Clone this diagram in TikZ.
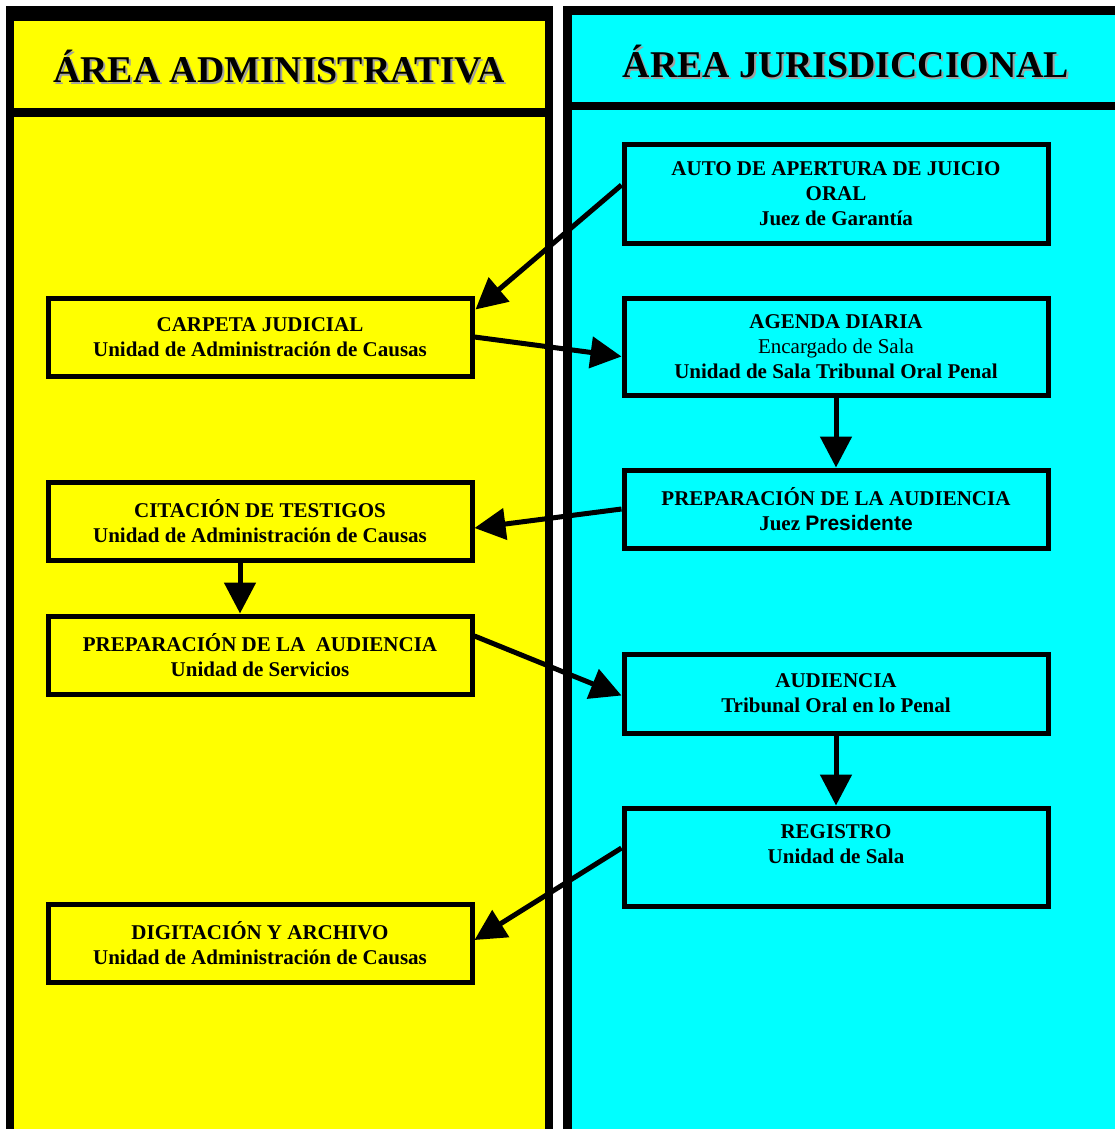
\documentclass[tikz,border=0pt]{standalone}
\usepackage{fontspec}
\setmainfont{Liberation Serif}
\newfontfamily\sansb{Liberation Sans}
\usetikzlibrary{arrows.meta,calc}
\definecolor{ylw}{RGB}{255,255,0}
\definecolor{cyn}{RGB}{0,255,255}
\definecolor{shd}{RGB}{160,160,160}
\begin{document}
\begin{tikzpicture}[x=1pt,y=-1pt,
  box/.style={draw=black,line width=5pt,rectangle,inner sep=0pt,minimum width=424pt,
    align=center,font=\fontsize{21pt}{25pt}\selectfont\bfseries},
  lbox/.style={box,fill=ylw},
  rbox/.style={box,fill=cyn},
  conn/.style={line width=5pt,-{Triangle[length=31pt,width=31pt]}},
  head/.style={font=\fontsize{37.8pt}{40pt}\selectfont\bfseries,inner sep=0pt}]
\useasboundingbox (0,0) rectangle (1115,1129);
\fill[white] (0,0) rectangle (1115,1129);
% left column
\fill[black] (6,6) rectangle (553,1140);
\fill[ylw] (14,21) rectangle (545,108);
\fill[ylw] (14,117) rectangle (545,1140);
% right column
\fill[black] (563,6) rectangle (1125,1140);
\fill[cyn] (572,15) rectangle (1125,102);
\fill[cyn] (572,110) rectangle (1125,1140);
% headers
\node[head,text=shd] (h1s) at (281,69) {ÁREA ADMINISTRATIVA};
\node[head] (h1) at (279,67) {ÁREA ADMINISTRATIVA};
\node[head,text=shd] (h2s) at (848,63) {ÁREA JURISDICCIONAL};
\node[head] (h2) at (846,61) {ÁREA JURISDICCIONAL};
% boxes
\node[rbox,minimum height=99pt] (auto) at (836,193.5) {AUTO DE APERTURA DE JUICIO\\ORAL\\Juez de Garantía};
\node[lbox,minimum height=78pt] (carpeta) at (260,337) {CARPETA JUDICIAL\\Unidad de Administración de Causas};
\node[rbox,minimum height=97pt] (agenda) at (836,346.5) {AGENDA DIARIA\\\mdseries Encargado de Sala\\Unidad de Sala Tribunal Oral Penal};
\node[lbox,minimum height=78pt] (citacion) at (260,521) {CITACIÓN DE TESTIGOS\\Unidad de Administración de Causas};
\node[rbox,minimum height=78pt] (prepr) at (836,509) {PREPARACIÓN DE LA AUDIENCIA\\Juez {\sansb\bfseries Presidente}};
\node[lbox,minimum height=78pt] (prepl) at (260,655) {PREPARACIÓN DE LA\ \ AUDIENCIA\\Unidad de Servicios};
\node[rbox,minimum height=79pt] (audiencia) at (836,693.5) {AUDIENCIA\\Tribunal Oral en lo Penal};
\node[rbox,minimum height=98pt] (registro) at (836,857) {REGISTRO\\Unidad de Sala\\\mbox{}};
\node[lbox,minimum height=78pt] (digit) at (260,943) {DIGITACIÓN Y ARCHIVO\\Unidad de Administración de Causas};
% connectors
\draw[conn] ($(auto.west)+(0,-8.5)$) -- ($(carpeta.north east)+(1,14)$);
\draw[conn] (carpeta.east) -- ($(agenda.west)+(0,10)$);
\draw[conn] (agenda.south) -- (prepr.north);
\draw[conn] (prepr.west) -- ($(citacion.east)+(0,7)$);
\draw[conn] ($(citacion.south)+(-20,0)$) -- ($(prepl.north)+(-20,0)$);
\draw[conn] ($(prepl.east)+(0,-19)$) -- ($(audiencia.west)+(0,2)$);
\draw[conn] (audiencia.south) -- (registro.north);
\draw[conn] ($(registro.west)+(0,-9)$) -- ($(digit.east)+(0,-3)$);
\end{tikzpicture}
\end{document}
